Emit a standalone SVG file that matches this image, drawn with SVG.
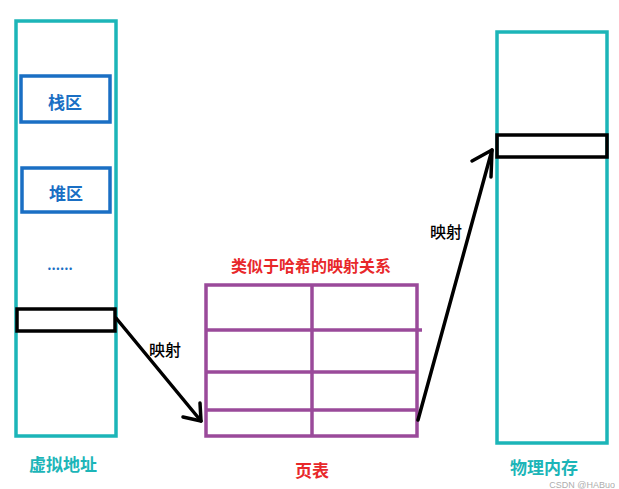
<svg xmlns="http://www.w3.org/2000/svg" width="619" height="489" viewBox="0 0 619 489">
<style>
.col{fill:#fff;stroke:#1cb5b8;stroke-width:3.5}
.seg{fill:#fff;stroke:#1a6fc4;stroke-width:3.5}
.blk{fill:none;stroke:#000;stroke-width:3.5}
.pt{fill:none;stroke:#9a4a9a;stroke-width:3.5}
.arr{fill:none;stroke:#000;stroke-width:3.5;stroke-linecap:round;stroke-linejoin:round}
text{font-family:"Noto Sans CJK SC","Noto Sans",sans-serif;text-anchor:middle;dominant-baseline:central}
.t1{font-size:17px;font-weight:bold;fill:#1a6fc4}
.tc{font-size:17px;font-weight:bold;fill:#1cb5b8}
.tr{font-size:16px;font-weight:bold;fill:#e8282a}
.tb{font-size:16px;font-weight:500;fill:#000}
</style>
<rect width="619" height="489" fill="#fff"/>
<g id="virtual">
<rect class="col" x="16" y="21" width="100" height="415"/>
<text class="tc" x="63" y="463">虚拟地址</text>
</g>
<g id="stack"><rect class="seg" x="21" y="76" width="89" height="46"/><text class="t1" x="65" y="101">栈区</text></g>
<g id="heap"><rect class="seg" x="22" y="168" width="88" height="44"/><text class="t1" x="66" y="192">堆区</text></g>
<g id="dots"><text class="t1" x="60" y="264" style="font-size:13px">......</text></g>
<g id="vblock"><rect class="blk" x="17" y="309" width="98" height="22"/></g>
<g id="pagetable">
<text class="tr" x="311" y="265">类似于哈希的映射关系</text>
<rect class="pt" x="206" y="285" width="211" height="151"/>
<line class="pt" x1="312" y1="285" x2="312" y2="436"/>
<line class="pt" x1="206" y1="330" x2="422" y2="330"/>
<line class="pt" x1="206" y1="372" x2="417" y2="372"/>
<line class="pt" x1="206" y1="410" x2="417" y2="410"/>
<text class="tr" x="312" y="469" style="font-size:17px">页表</text>
</g>
<g id="physical">
<rect class="col" x="497" y="32" width="110" height="411"/>
<rect class="blk" x="497" y="135" width="110" height="22"/>
<text class="tc" x="544" y="466">物理内存</text>
</g>
<g id="connectors">
<path class="arr" d="M116 318 L201 421"/>
<path class="arr" d="M183 417 L201 421 L200 403"/>
<text class="tb" x="165" y="349">映射</text>
<path class="arr" d="M418 420 L492 150"/>
<path class="arr" d="M472 161 L492 150 L491 177"/>
<text class="tb" x="446" y="231">映射</text>
</g>
<text x="615" y="485" style="font-family:'Liberation Sans',sans-serif;font-size:9px;fill:#999;opacity:0.8;text-anchor:end">CSDN @HABuo</text>
</svg>
